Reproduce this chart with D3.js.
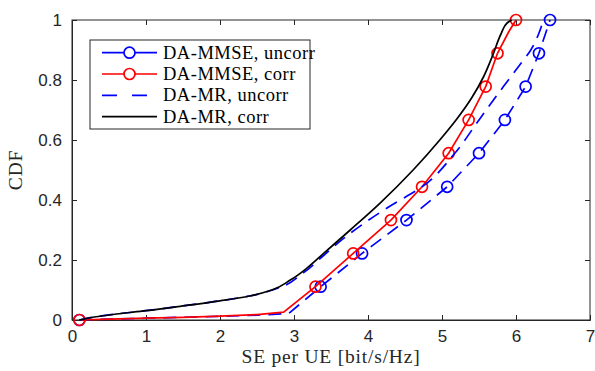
<!DOCTYPE html>
<html>
<head>
<meta charset="utf-8">
<script src="https://cdn.jsdelivr.net/npm/d3@7"></script>
<style>
  body { margin: 0; background: #fff; }
  svg { display: block; }
</style>
</head>
<body>
<svg id="chart"></svg>
<script>
// tick labels
var xTicks = [0, 1, 2, 3, 4, 5, 6, 7];
var yTicks = [0, 0.2, 0.4, 0.6, 0.8, 1];

var seriesNames = ['DA-MMSE, uncorr', 'DA-MMSE, corr', 'DA-MR, uncorr', 'DA-MR, corr'];

// DA-MMSE, uncorr (blue, circles)
var mmseUncorrX = [0.1, 0.5, 1, 1.5, 2, 2.5, 2.93, 3.36, 3.92, 4.52, 5.07, 5.5, 5.85, 6.13, 6.31, 6.46];
var mmseUncorrY = [0, 0.003, 0.006, 0.009, 0.012, 0.016, 0.022, 0.111, 0.222, 0.333, 0.444, 0.556, 0.667, 0.778, 0.889, 1];
var mmseUncorrMarkX = [0.1, 3.36, 3.92, 4.52, 5.07, 5.5, 5.85, 6.13, 6.31, 6.46];

// DA-MMSE, corr (red, circles)
var mmseCorrX = [0.1, 0.5, 1, 1.5, 2, 2.5, 2.86, 3.29, 3.8, 4.31, 4.73, 5.09, 5.36, 5.59, 5.75, 5.9, 6.0];
var mmseCorrY = [0, 0.003, 0.006, 0.009, 0.013, 0.018, 0.026, 0.111, 0.222, 0.333, 0.444, 0.556, 0.667, 0.778, 0.889, 0.96, 1];
var mmseCorrMarkX = [0.1, 3.29, 3.8, 4.31, 4.73, 5.09, 5.36, 5.59, 5.75, 6.0];

// cdf levels where the markers sit
var markCdf = [0, 0.111, 0.222, 0.333, 0.444, 0.556, 0.667, 0.778, 0.889, 1];

// DA-MR, uncorr (blue dashed)
var mrUncorrX = [0.1, 0.3, 0.6, 1, 1.5, 2, 2.4, 2.77, 3.13, 3.4, 3.67, 3.98, 4.3, 4.73, 5.17, 5.5, 5.83, 6.05, 6.2, 6.3, 6.37];
var mrUncorrY = [0, 0.01, 0.02, 0.031, 0.047, 0.064, 0.08, 0.105, 0.158, 0.215, 0.272, 0.328, 0.38, 0.444, 0.555, 0.667, 0.778, 0.85, 0.9, 0.95, 1];

// DA-MR, corr (black)
var mrCorrX = [0.1, 0.3, 0.6, 1, 1.5, 2, 2.4, 2.7, 2.95, 3.17, 3.4, 3.76, 4.16, 4.61, 4.97, 5.2, 5.4, 5.56, 5.69, 5.8, 5.88, 5.94];
var mrCorrY = [0, 0.01, 0.02, 0.031, 0.047, 0.064, 0.08, 0.1, 0.133, 0.172, 0.222, 0.3, 0.389, 0.5, 0.6, 0.67, 0.74, 0.81, 0.885, 0.955, 0.99, 1];

var axisColor = '#262626';
var serif = '"Liberation Serif", "Times New Roman", serif';

var canvas = setUpSvgCanvas({width: 595, height: 371});
drawChart(canvas);

function zipXY(xs, ys) {
    return xs.map(function(x, i) { return {x: x, y: ys[i]}; });
}

function drawChart(canvas) {
    var svg = canvas.svg,
        width = canvas.width,
        height = canvas.height;

    var x = d3.scaleLinear().domain([0, 7]).range([0, width]);
    var y = d3.scaleLinear().domain([0, 1]).range([height, 0]);

    // axes with inward ticks on all four sides (matlab box)
    var tickLen = 5;
    svg.append('g')
        .attr('class', 'axisX')
        .attr('transform', 'translate(0,' + height + ')')
        .call(d3.axisBottom(x).tickValues(xTicks).tickSize(-tickLen).tickPadding(10).tickFormat(d3.format('d')));
    svg.append('g')
        .attr('class', 'axisY')
        .call(d3.axisLeft(y).tickValues(yTicks).tickSize(-tickLen).tickPadding(10).tickFormat(function(d) { return d === 0 || d === 1 ? d : d3.format('.1f')(d); }));
    svg.append('g')
        .attr('class', 'axisTop')
        .call(d3.axisTop(x).tickValues(xTicks).tickSize(-tickLen).tickFormat(''));
    svg.append('g')
        .attr('class', 'axisRight')
        .attr('transform', 'translate(' + width + ',0)')
        .call(d3.axisRight(y).tickValues(yTicks).tickSize(-tickLen).tickFormat(''));

    svg.selectAll('.domain').attr('stroke', axisColor).attr('stroke-width', 1);
    svg.selectAll('.tick line').attr('stroke', axisColor);
    svg.selectAll('.tick text')
        .attr('fill', axisColor)
        .style('font-family', '"Liberation Sans", Arial, sans-serif')
        .style('font-size', '17px');
    svg.selectAll('.axisTop .domain, .axisRight .domain').attr('d', null);
    svg.append('rect')
        .attr('width', width).attr('height', height)
        .attr('fill', 'none').attr('stroke', axisColor).attr('stroke-width', 1);

    // axis labels
    svg.append('text')
        .attr('x', width / 2)
        .attr('y', height + 43)
        .attr('text-anchor', 'middle')
        .style('font-family', serif)
        .style('font-size', '19.5px')
        .style('letter-spacing', '0.8px')
        .attr('fill', axisColor)
        .text('SE per UE [bit/s/Hz]');
    svg.append('text')
        .attr('transform', 'translate(-50,' + (height / 2) + ') rotate(-90)')
        .attr('text-anchor', 'middle')
        .style('font-family', serif)
        .style('font-size', '19.5px')
        .style('letter-spacing', '0.8px')
        .attr('fill', axisColor)
        .text('CDF');

    var line = d3.line()
        .x(function(d) { return x(d.x); })
        .y(function(d) { return y(d.y); });
    var smooth = d3.line()
        .curve(d3.curveMonotoneY)
        .x(function(d) { return x(d.x); })
        .y(function(d) { return y(d.y); });

    var plot = svg.append('g').attr('class', 'lines');

    // series in matlab plotting order
    plot.append('path')
        .datum(zipXY(mmseUncorrX, mmseUncorrY))
        .attr('d', line).attr('fill', 'none')
        .attr('stroke', '#0000ff').attr('stroke-width', 1.7)
        .attr('stroke-dasharray', '13,8');
    drawMarkers(plot, zipXY(mmseUncorrMarkX, markCdf), '#0000ff', x, y);

    plot.append('path')
        .datum(zipXY(mmseCorrX, mmseCorrY))
        .attr('d', line).attr('fill', 'none')
        .attr('stroke', '#ff0000').attr('stroke-width', 1.7);
    drawMarkers(plot, zipXY(mmseCorrMarkX, markCdf), '#ff0000', x, y);

    plot.append('path')
        .datum(zipXY(mrUncorrX, mrUncorrY))
        .attr('d', smooth).attr('fill', 'none')
        .attr('stroke', '#0000ff').attr('stroke-width', 1.7)
        .attr('stroke-dasharray', '13,8');

    plot.append('path')
        .datum(zipXY(mrCorrX, mrCorrY))
        .attr('d', smooth).attr('fill', 'none')
        .attr('stroke', '#000000').attr('stroke-width', 1.7);

    drawLegend(svg);
}

function drawMarkers(g, pts, color, x, y) {
    g.selectAll(null)
        .data(pts)
        .enter().append('circle')
        .attr('cx', function(d) { return x(d.x); })
        .attr('cy', function(d) { return y(d.y); })
        .attr('r', 5.5)
        .attr('fill', 'none')
        .attr('stroke', color)
        .attr('stroke-width', 1.7);
}

function drawLegend(svg) {
    // legend box in plot coordinates
    var lx = 18, ly = 20, lw = 220, lh = 89, rowH = 21.3;
    var legend = svg.append('g').attr('class', 'legend')
        .attr('transform', 'translate(' + lx + ',' + ly + ')');

    legend.append('rect')
        .attr('width', lw).attr('height', lh)
        .attr('fill', '#fff').attr('stroke', axisColor).attr('stroke-width', 1);

    var styles = [
        {color: '#0000ff', dash: null, marker: true},
        {color: '#ff0000', dash: null, marker: true},
        {color: '#0000ff', dash: '15,15', marker: false},
        {color: '#000000', dash: null, marker: false}
    ];

    var row = legend.selectAll('.row')
        .data(seriesNames)
        .enter().append('g')
        .attr('class', 'row')
        .attr('transform', function(d, i) { return 'translate(0,' + (12.7 + i * rowH) + ')'; });

    row.append('line')
        .attr('x1', 12).attr('x2', 67)
        .attr('stroke', function(d, i) { return styles[i].color; })
        .attr('stroke-width', 1.7)
        .attr('stroke-dasharray', function(d, i) { return styles[i].dash; });

    row.filter(function(d, i) { return styles[i].marker; })
        .append('circle')
        .attr('cx', 39.5).attr('r', 5.5)
        .attr('fill', '#fff')
        .attr('stroke', function(d) { return d.indexOf('uncorr') > 0 ? '#0000ff' : '#ff0000'; })
        .attr('stroke-width', 1.7);

    row.append('text')
        .attr('x', 73)
        .attr('dy', '0.33em')
        .style('font-family', serif)
        .style('font-size', '18.5px')
        .style('letter-spacing', '0.5px')
        .attr('fill', '#000')
        .text(function(d) { return d; });
}

function setUpSvgCanvas(input) {
    var margin = {top: 20, right: 5, bottom: 51, left: 72},
        width = input.width - margin.left - margin.right,
        height = input.height - margin.top - margin.bottom;

    var svg = d3.select('#chart')
        .attr('width', input.width)
        .attr('height', input.height)
        .append('g')
        .attr('transform', 'translate(' + margin.left + ',' + margin.top + ')');

    return {svg: svg, margin: margin, width: width, height: height};
}
</script>
</body>
</html>
